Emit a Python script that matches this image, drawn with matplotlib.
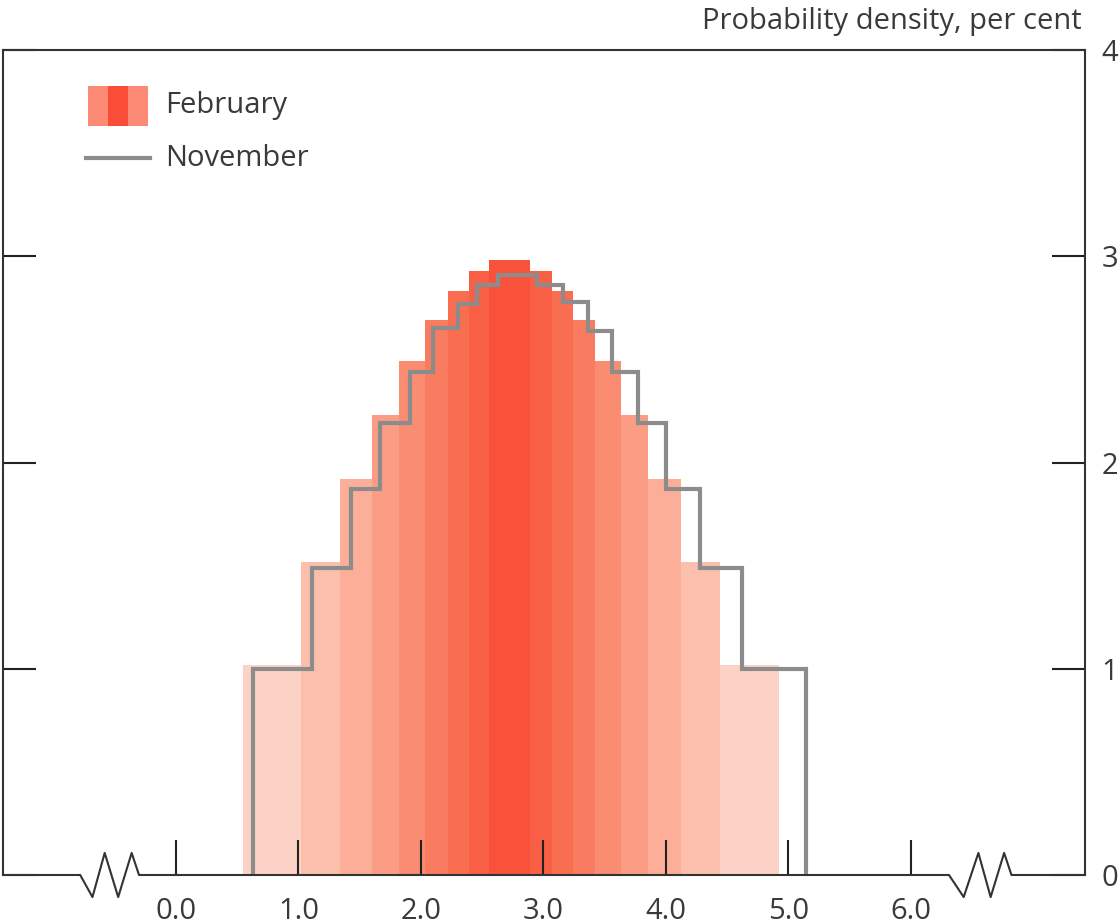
import numpy as np
import matplotlib
matplotlib.use('Agg')
import matplotlib.pyplot as plt
from matplotlib.patches import Rectangle

plt.rcParams['font.family'] = ['Open Sans', 'DejaVu Sans']

# February fan-chart histogram: band edges (per cent) and densities
feb_edges = [0.55, 1.02, 1.34, 1.60, 1.82, 2.03, 2.22, 2.39, 2.56,
             2.89, 3.07, 3.24, 3.42, 3.63, 3.85, 4.12, 4.44, 4.92]
feb_density = [1.02, 1.52, 1.92, 2.23, 2.49, 2.69, 2.83, 2.93, 2.98,
               2.93, 2.83, 2.69, 2.49, 2.23, 1.92, 1.52, 1.02]

# November distribution (outline)
nov_edges = [0.63, 1.11, 1.43, 1.67, 1.91, 2.10, 2.30, 2.46, 2.63,
             2.95, 3.16, 3.36, 3.56, 3.77, 4.00, 4.28, 4.62, 5.14]
nov_density = [1.00, 1.49, 1.87, 2.19, 2.44, 2.65, 2.77, 2.86, 2.91,
               2.86, 2.78, 2.64, 2.44, 2.19, 1.87, 1.49, 1.00]

xticks = [0, 1, 2, 3, 4, 5, 6]
xlabels = ['0.0', '1.0', '2.0', '3.0', '4.0', '5.0', '6.0']
yticks = [0, 1, 2, 3, 4]

# shades from outermost band (pale) to central band (deep red)
band_colors = ['#fdd2c6', '#fcbfac', '#fcae99', '#fb9d85', '#fa8c72',
               '#fa7c60', '#f96d50', '#f95f44', '#f9523b']

txt = '#3a3a3a'
fs = 21
fig = plt.figure(figsize=(11.19, 9.24), dpi=100)
ax = fig.add_axes([3 / 1119, 49 / 924, 1082 / 1119, 825 / 924])

edges = np.array(feb_edges)
n = len(feb_density)
mid = n // 2
cols = [band_colors[len(band_colors) - 1 - abs(i - mid)] for i in range(n)]
ax.bar(edges[:-1], feb_density, width=np.diff(edges), align='edge',
       color=cols, linewidth=0, zorder=1)

# November as a closed step outline
nx = np.repeat(nov_edges, 2)
ny = np.concatenate([[0], np.repeat(nov_density, 2), [0]])
ax.plot(nx, ny, color='#8c8c8c', lw=3, solid_joinstyle='miter', zorder=3)

ax.set_xlim(-1.41, 7.42)
ax.set_ylim(0, 4)
ax.set_xticks(xticks)
ax.set_xticklabels(xlabels)
ax.set_yticks(yticks)
ax.tick_params(axis='x', direction='in', length=25, width=1.5, color='#222222',
               labelsize=fs, labelcolor=txt, pad=16)
ax.tick_params(axis='y', direction='in', length=24, width=1.5, color='#222222',
               left=True, right=True, labelleft=False, labelright=True,
               labelsize=fs, labelcolor=txt, pad=12)

for s in ['left', 'right', 'top']:
    ax.spines[s].set_linewidth(1.5)
    ax.spines[s].set_color('#333333')
ax.spines['bottom'].set_visible(False)

# bottom axis line with break marks
zz = 0.107
bx = [-1.41, -0.78, -0.68, -0.58, -0.47, -0.36, -0.30,
      6.31, 6.43, 6.55, 6.65, 6.76, 6.82, 7.42]
by = [0, 0, -zz, zz, -zz, zz, 0,
      0, -zz, zz, -zz, zz, 0, 0]
ax.plot(bx, by, color='#333333', lw=1.5, clip_on=False, zorder=4)

# legend drawn by hand
sw_w = 0.0185
for k, c in enumerate(['#fc8a74', '#f94d38', '#fc8a74']):
    ax.add_patch(Rectangle((0.0786 + k * sw_w, 0.908), sw_w, 0.0485,
                           transform=ax.transAxes, color=c, lw=0))
ax.plot([0.0767, 0.1359], [0.869, 0.869], transform=ax.transAxes,
        color='#8c8c8c', lw=3)
ax.text(0.1497, 0.933, 'February', transform=ax.transAxes, fontsize=fs,
        color=txt, va='center')
ax.text(0.1497, 0.869, 'November', transform=ax.transAxes, fontsize=fs,
        color=txt, va='center')

fig.text(1082 / 1119, 1 - 22 / 924, 'Probability density, per cent',
         ha='right', va='center', fontsize=fs, color=txt)

fig.savefig('out.png', dpi=100)
